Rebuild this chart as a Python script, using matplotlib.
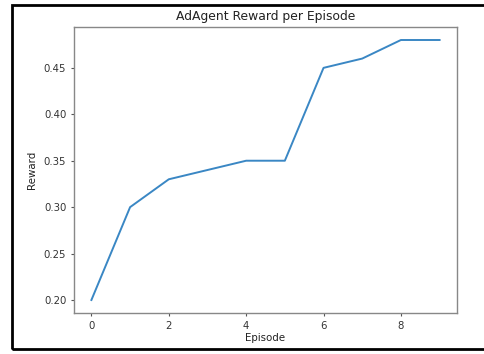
import matplotlib
matplotlib.use("Agg")
import matplotlib.pyplot as plt
from matplotlib.patches import Rectangle

episodes = [0, 1, 2, 3, 4, 5, 6, 7, 8, 9]
rewards = [0.20, 0.30, 0.33, 0.34, 0.35, 0.35, 0.45, 0.46, 0.48, 0.48]

fig = plt.figure(figsize=(4.84, 3.54), dpi=100)
ax = fig.add_axes([74/484, 41/354, (457-74)/484, (313-27)/354])
ax.plot(episodes, rewards, color="#3a87c4", linewidth=1.4)
ax.set_title("AdAgent Reward per Episode", fontsize=8.9, pad=5, color="#222222")
ax.set_xlabel("Episode", fontsize=7.4, labelpad=2, color="#222222")
ax.set_ylabel("Reward", fontsize=7.4, labelpad=5, color="#222222")
ax.set_xticks([0, 2, 4, 6, 8])
ax.set_yticks([0.20, 0.25, 0.30, 0.35, 0.40, 0.45])
ax.tick_params(labelsize=7.3, color="#555555", labelcolor="#333333",
               length=2.5, width=0.8, pad=3)
for s in ax.spines.values():
    s.set_color("#888888")
    s.set_linewidth(1.0)

fig.patches.append(Rectangle((11.5/484, 5/354), 1.2, (349-4.5)/354,
                             transform=fig.transFigure, fill=False,
                             edgecolor="black", linewidth=2, clip_on=False))
fig.savefig("out.png", dpi=100)
